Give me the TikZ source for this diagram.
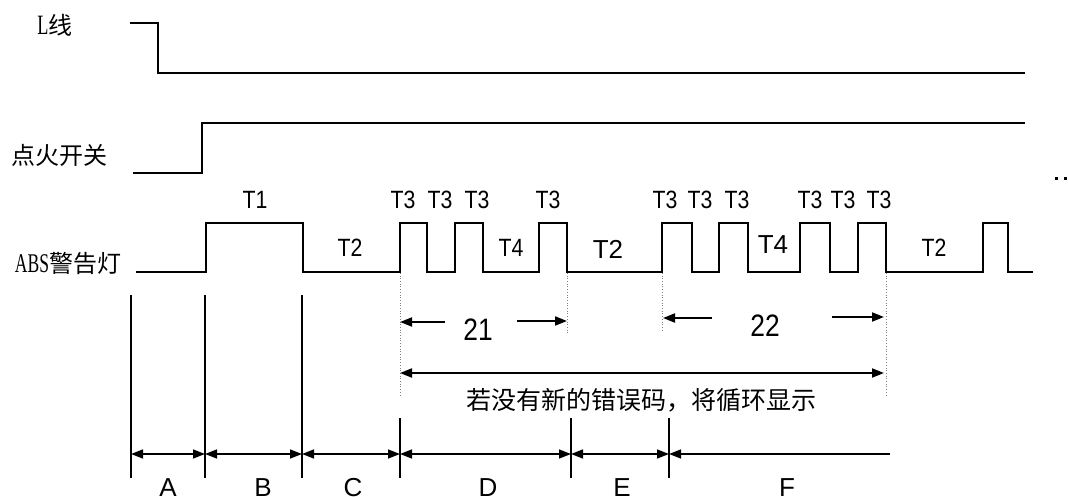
\documentclass[tikz,border=0pt]{standalone}
\usepackage{fontspec}
\usetikzlibrary{arrows.meta}
\newfontfamily\cjk{Noto Sans CJK SC}
\newfontfamily\tfont[FakeStretch=0.85]{Liberation Sans}
\newfontfamily\bfont{Liberation Sans}
\newfontfamily\sfont{Liberation Sans}
\newfontfamily\afont[FakeStretch=0.65]{Liberation Serif}
\begin{document}
\begin{tikzpicture}[x=1pt,y=-1pt,
  wave/.style={line width=2.6pt,line join=miter,line cap=butt},
  tick/.style={line width=1.6pt},
  guide/.style={line width=0.7pt,dotted,gray},
  onetip/.style={line width=2pt,-{Triangle[length=12pt,width=9pt]}},
  twotip/.style={line width=1.6pt,{Triangle[length=12pt,width=9pt]}-{Triangle[length=12pt,width=9pt]}},
  tlab/.style={font=\tfont\fontsize{25}{25}\selectfont,inner sep=0pt},
  blab/.style={font=\bfont\fontsize{26}{26}\selectfont,inner sep=0pt},
  numlab/.style={font=\tfont\fontsize{31}{31}\selectfont,inner sep=0pt},
  seglab/.style={font=\sfont\fontsize{26}{26}\selectfont,inner sep=0pt,anchor=base},
  cjklab/.style={font=\cjk\fontsize{24}{24}\selectfont,inner sep=0pt},
  notelab/.style={font=\cjk\fontsize{25}{25}\selectfont,inner sep=0pt}]
\useasboundingbox (0,0) rectangle (1069,497);

% signal names
\node[cjklab] (lline) at (55,25) {{\afont\fontsize{28}{28}\selectfont L}线};
\node[cjklab] (ign) at (60,155) {点火开关};
\node[cjklab] (abs) at (68,263) {{\afont\fontsize{27}{27}\selectfont ABS}警告灯};

% waveforms
\draw[wave] (130,23) -- (158,23) -- (158,73) -- (1025,73);
\draw[wave] (133,173) -- (202,173) -- (202,123) -- (1025,123);
\draw[wave] (136,272) -- (206,272) -- (206,223) -- (303,223) -- (303,272)
  -- (400,272) -- (400,223) -- (427,223) -- (427,272)
  -- (455,272) -- (455,223) -- (483,223) -- (483,272)
  -- (539,272) -- (539,223) -- (567,223) -- (567,272)
  -- (662,272) -- (662,223) -- (692,223) -- (692,272)
  -- (719,272) -- (719,223) -- (748,223) -- (748,272)
  -- (800,272) -- (800,223) -- (830,223) -- (830,272)
  -- (858,272) -- (858,223) -- (886,223) -- (886,272)
  -- (983,272) -- (983,223) -- (1008,223) -- (1008,272) -- (1033,272);

% dots at the right
\fill (1054.5,177.5) rectangle (1057.5,180.5);
\fill (1063.5,177.5) rectangle (1066.5,180.5);

% timing labels
\node[tlab] (t1) at (255,200) {T1};
\node[tlab] (t2a) at (350,248) {T2};
\node[tlab] (t3a) at (403,200) {T3};
\node[tlab] (t3b) at (440,200) {T3};
\node[tlab] (t3c) at (477,200) {T3};
\node[tlab] (t4a) at (511,248) {T4};
\node[tlab] (t3d) at (548,200) {T3};
\node[blab] (t2b) at (608,249) {T2};
\node[tlab] (t3e) at (665,200) {T3};
\node[tlab] (t3f) at (700,200) {T3};
\node[tlab] (t3g) at (737,200) {T3};
\node[blab] (t4b) at (773,245) {T4};
\node[tlab] (t3h) at (810,200) {T3};
\node[tlab] (t3i) at (843,200) {T3};
\node[tlab] (t3j) at (879,200) {T3};
\node[tlab] (t2c) at (934,248) {T2};

% dotted guides
\coordinate (g1t) at (400,273); \coordinate (g1b) at (400,397);
\coordinate (g2t) at (567,273); \coordinate (g2b) at (567,335);
\coordinate (g3t) at (662,273); \coordinate (g3b) at (662,332);
\coordinate (g4t) at (886,273); \coordinate (g4b) at (886,397);
\draw[guide] (g1t) -- (g1b);
\draw[guide] (g2t) -- (g2b);
\draw[guide] (g3t) -- (g3b);
\draw[guide] (g4t) -- (g4b);

% code 21
\node[numlab] (c21) at (478,330) {21};
\coordinate (a21l) at (445,322); \coordinate (a21le) at (400,322);
\coordinate (a21r) at (517,321); \coordinate (a21re) at (567,321);
\draw[onetip] (a21l) -- (a21le);
\draw[onetip] (a21r) -- (a21re);

% code 22
\node[numlab] (c22) at (765,326) {22};
\coordinate (a22l) at (712,318); \coordinate (a22le) at (663,318);
\coordinate (a22r) at (832,317); \coordinate (a22re) at (884,317);
\draw[onetip] (a22l) -- (a22le);
\draw[onetip] (a22r) -- (a22re);

% repeat arrow
\coordinate (rl) at (400,373); \coordinate (rr) at (884,373);
\draw[line width=2pt,{Triangle[length=12pt,width=9pt]}-{Triangle[length=12pt,width=9pt]}] (rl) -- (rr);
\node[notelab] (note) at (641,400) {若没有新的错误码，将循环显示};

% segment ticks
\coordinate (pa) at (131,454); \coordinate (pb) at (205,454);
\coordinate (pc) at (302,454); \coordinate (pd) at (400,454);
\coordinate (pe) at (571,454); \coordinate (pf) at (669,454);
\coordinate (pg) at (890,454);
\draw[tick] (131,295) -- (131,478);
\draw[tick] (205,295) -- (205,478);
\draw[tick] (302,295) -- (302,478);
\draw[tick] (400,418) -- (400,478);
\draw[tick] (571,418) -- (571,478);
\draw[tick] (669,418) -- (669,478);

\draw[twotip] (pa) -- (pb);
\draw[twotip] (pb) -- (pc);
\draw[twotip] (pc) -- (pd);
\draw[twotip] (pd) -- (pe);
\draw[twotip] (pe) -- (pf);
\draw[line width=1.6pt,{Triangle[length=12pt,width=9pt]}-] (pf) -- (pg);

\node[seglab] (la) at (168,496) {A};
\node[seglab] (lb) at (263,496) {B};
\node[seglab] (lc) at (353,496) {C};
\node[seglab] (ld) at (488,496) {D};
\node[seglab] (le) at (622,496) {E};
\node[seglab] (lf) at (787,496) {F};
\end{tikzpicture}
\end{document}
